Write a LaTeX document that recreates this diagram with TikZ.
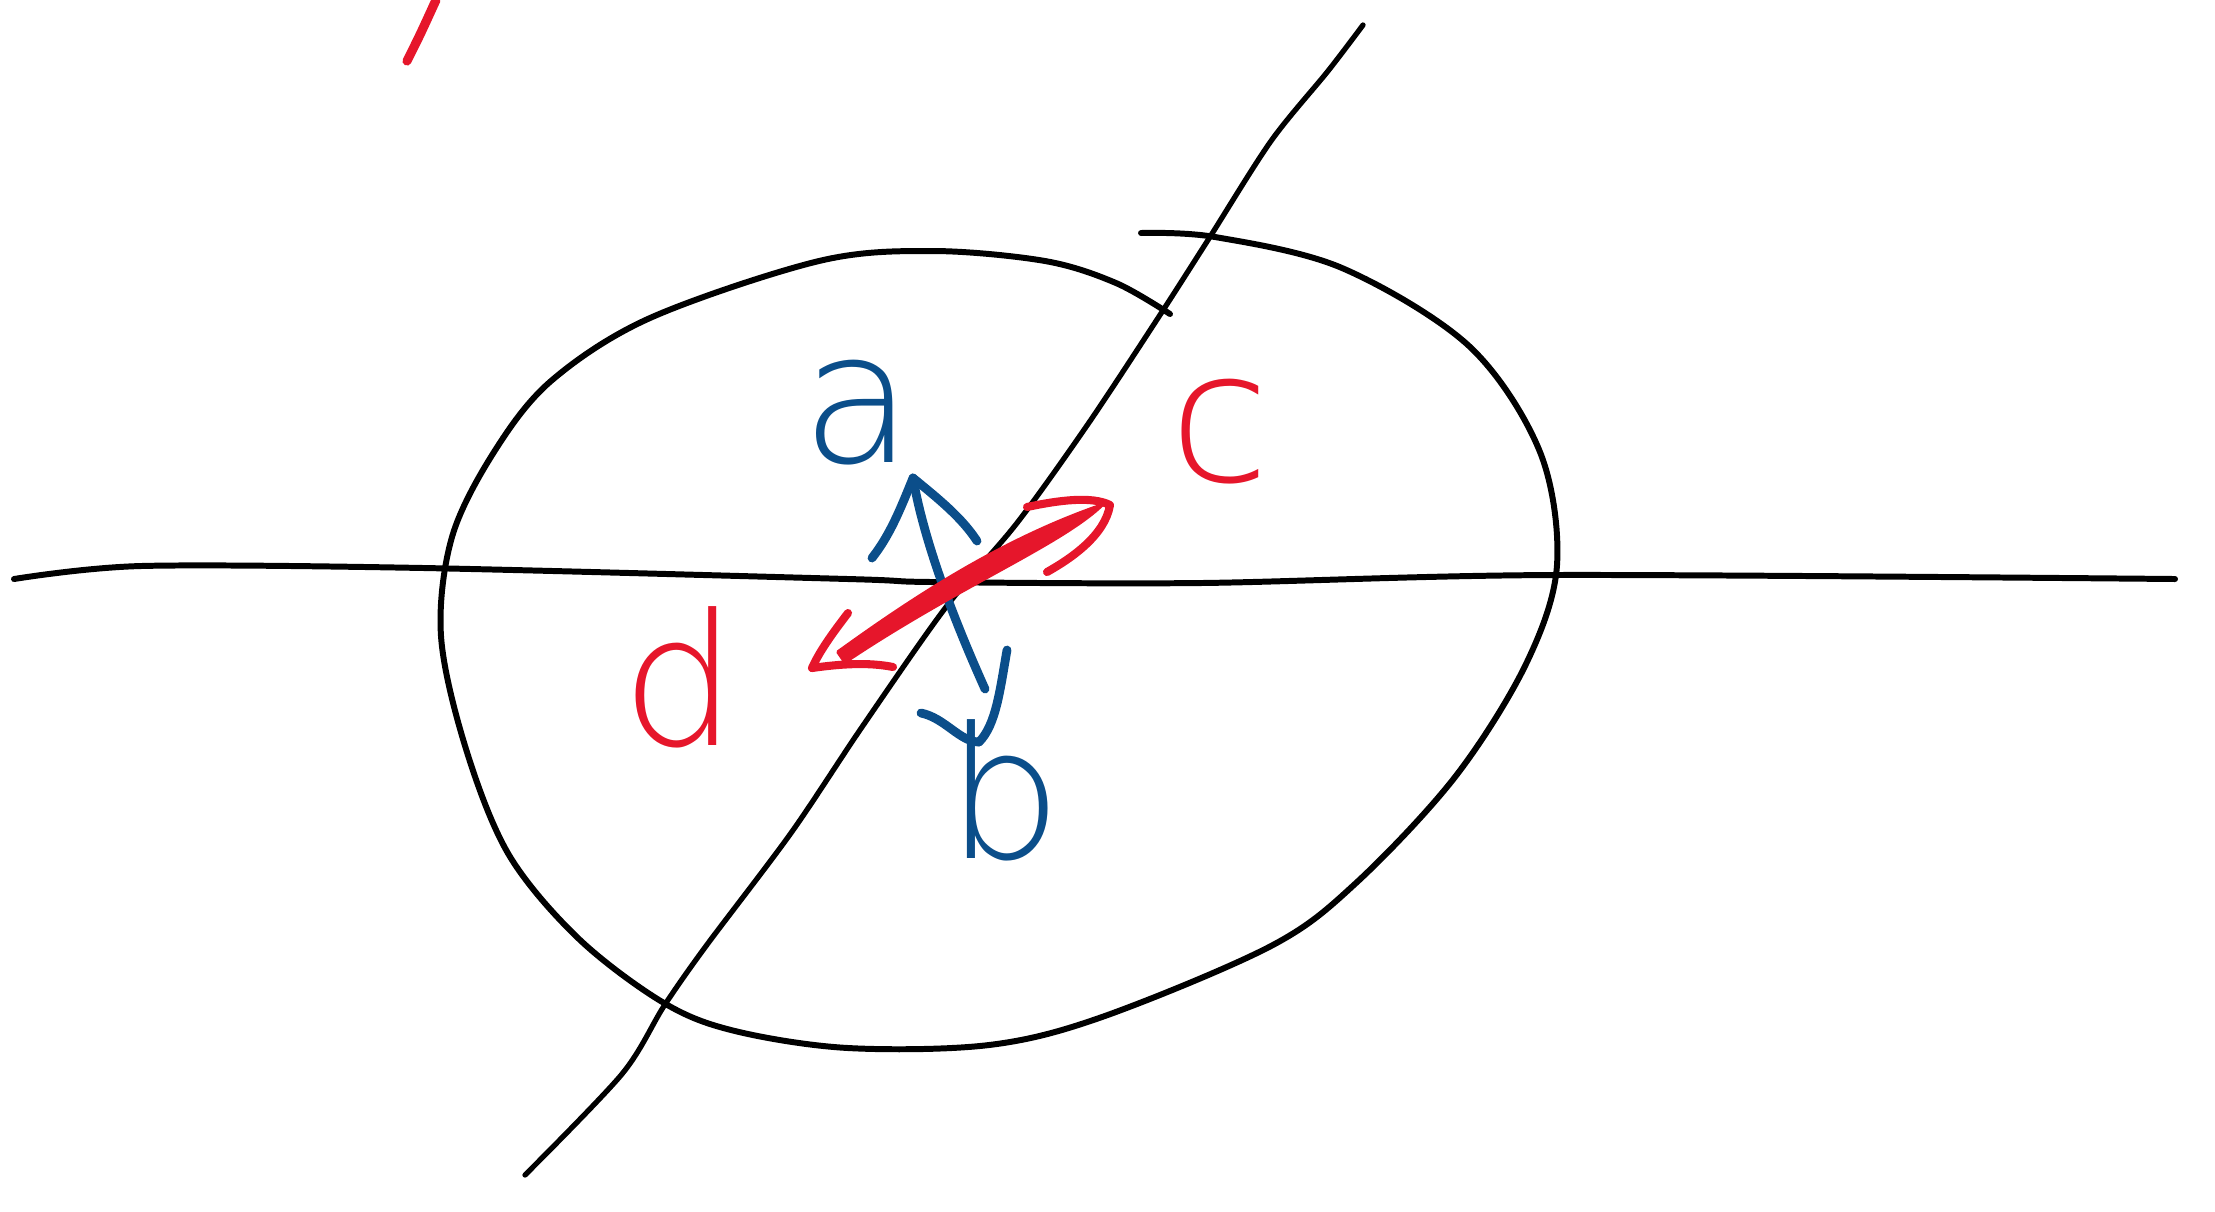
\documentclass[tikz,border=0pt]{standalone}
\usepackage{fontspec}
\newfontfamily\handfont{DejaVu Sans ExtraLight}
\usepackage{tikz}
\usetikzlibrary{positioning, calc}
\usepackage{xcolor}
\definecolor{handRed}{HTML}{E6162B}
\definecolor{handBlue}{HTML}{0B4E8A}
\definecolor{handInk}{HTML}{000000}

\tikzset{
  inkline/.style={draw=handInk, line width=1.7pt, line cap=round, line join=round},
  blueline/.style={draw=handBlue, line width=2.5pt, line cap=round, line join=round},
  redline/.style={draw=handRed, line width=2.3pt, line cap=round, line join=round},
  letter/.style={inner sep=0pt, font=\handfont\fontsize{52}{52}\selectfont}
}

\begin{document}
\begin{tikzpicture}[x=0.01cm, y=-0.01cm]
        % Lienzo: 2215 x 1211 px
        \useasboundingbox (0,0) rectangle (2215,1211);
        % Eje horizontal
        \draw[inkline] plot[smooth, tension=0.5] coordinates {(14,579) (141,566) (424,568) (848,579)
          (932,582) (1201,583) (1554,575) (2175,579)};
        % Eje diagonal
        \draw[inkline, line width=1.5pt] plot[smooth, tension=0.5] coordinates {(525,1175) (622,1074) (664,1006) (706,946)
          (791,833) (862,727) (946,607) (1017,523) (1088,424) (1158,318) (1208,240) (1271,141)
          (1328,71) (1363,25)};
        % Curva cerrada (contorno)
        \draw[inkline] plot[smooth, tension=0.55] coordinates {(1141,233) (1215,237) (1342,268)
          (1469,346) (1540,452) (1557,565) (1526,664) (1455,777) (1356,883) (1271,946) (1102,1017)
          (989,1045) (848,1048) (735,1031) (664,1003) (579,939) (509,855) (466,749) (441,636)
          (452,537) (494,452) (551,381) (650,318) (819,261) (932,251) (1045,261) (1116,283) (1170,314)};
        % Trazo rojo arriba
        \draw[redline, line width=2.6pt] (407,61) .. controls (420,35) .. (436,0);
        % Flecha azul a-b
        \coordinate (aTip) at (913,478);
        \coordinate (aEnd) at (985,689);
        \coordinate (bTip) at (979,742);
        \draw[blueline] (aTip) .. controls (922,530) and (945,600) .. (aEnd);
        \draw[blueline] (aTip) .. controls (900,510) and (890,535) .. (872,558);
        \draw[blueline] (aTip) .. controls (940,500) and (962,518) .. (977,541);
        \draw[blueline] (921,713) .. controls (945,718) and (960,742) .. (bTip);
        \draw[blueline] (1007,650) .. controls (1000,690) and (996,725) .. (bTip);
        % Flecha roja c-d (trazo grueso)
        \coordinate (dTip) at (812,668);
        \coordinate (cTip) at (1110,505);
        \fill[handRed, draw=handRed, line width=1pt, line join=round] (838,652) .. controls (910,600) and (1000,540) .. (1102,505)
          .. controls (1060,545) and (960,585) .. (845,662) -- cycle;
        \draw[redline] (848,613) .. controls (835,630) and (820,650) .. (dTip) .. controls (840,664) and (868,662) .. (893,667);
        \draw[redline] (1027,507) .. controls (1060,500) and (1092,496) .. (cTip) .. controls (1105,535) and (1072,558) .. (1047,572);
        % Etiquetas
        \node[letter, text=handBlue] (labA) at (858,413) {a};
        \node[letter, text=handBlue] (labB) at (1005,790) {b};
        \node[letter, text=handRed] (labC) at (1220,432) {c};
        \node[letter, text=handRed] (labD) at (680,677) {d};
      \end{tikzpicture}
\end{document}
